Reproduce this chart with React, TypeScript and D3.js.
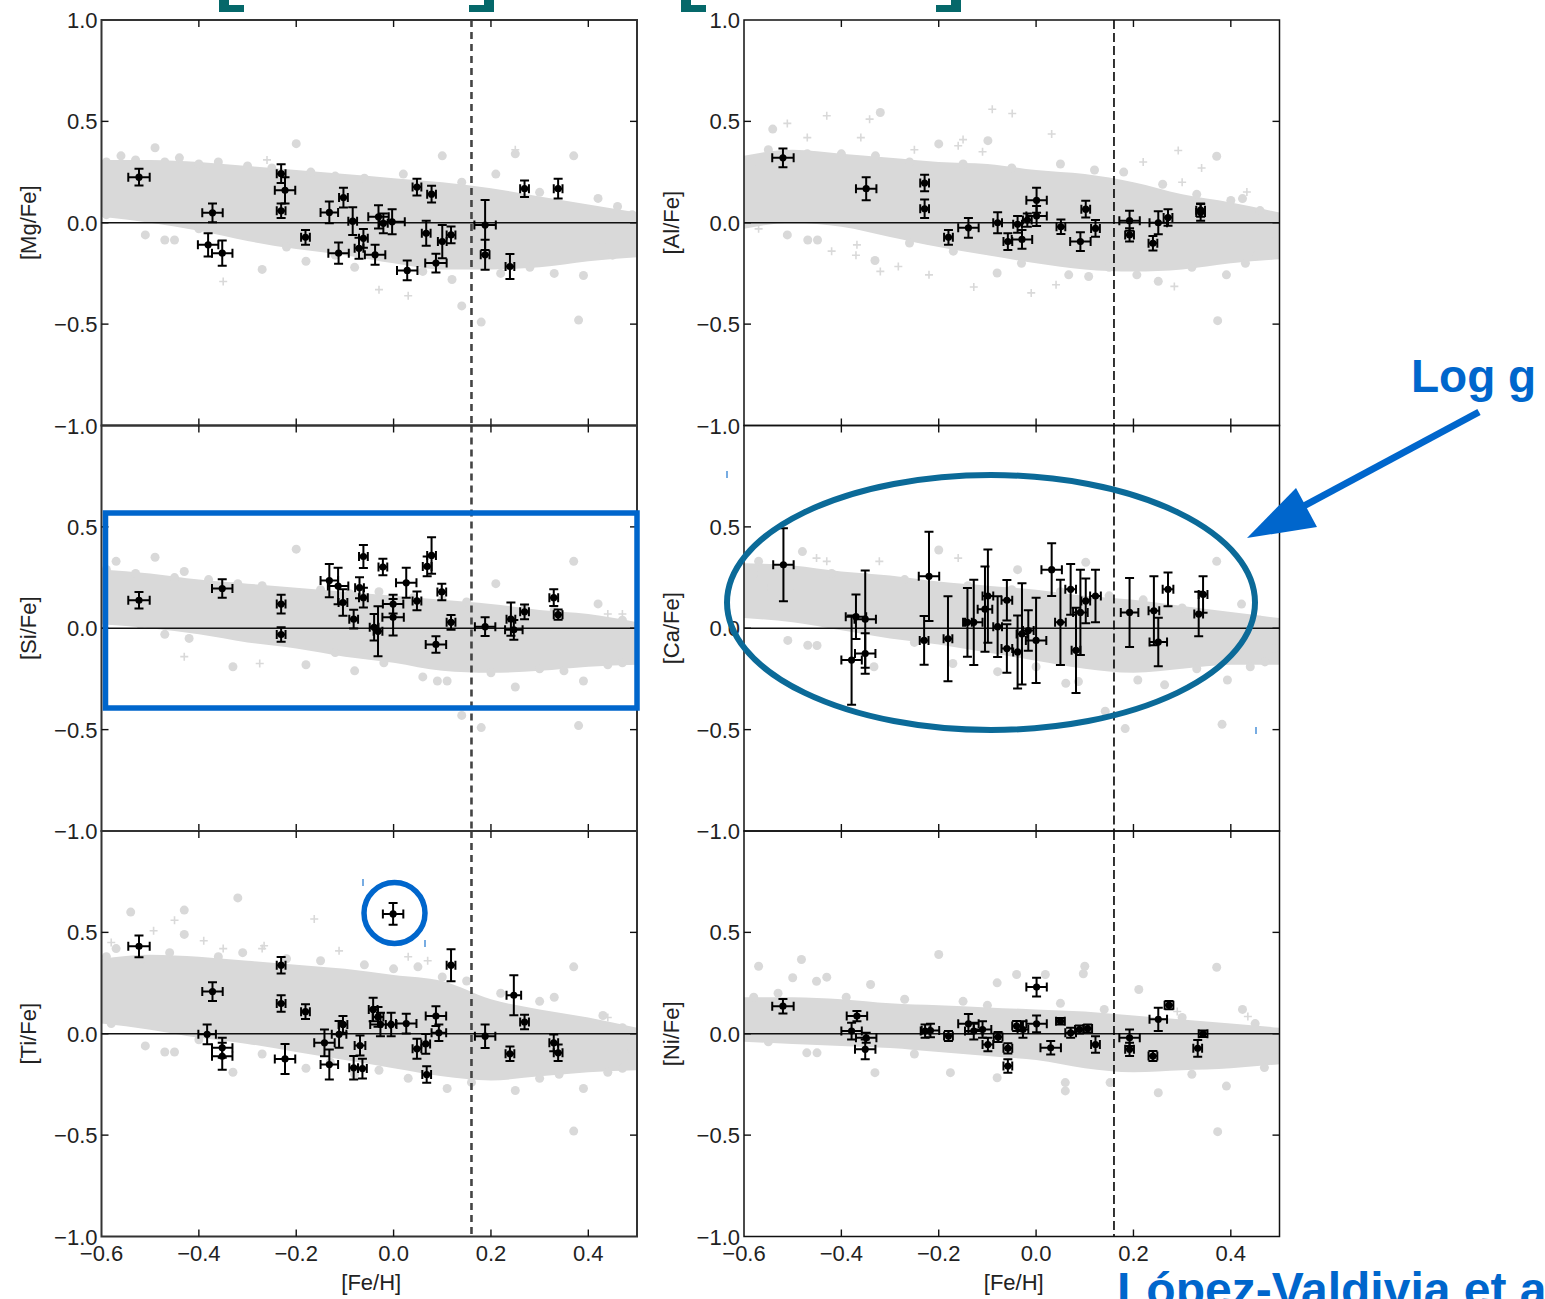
import React from 'react';
import * as d3 from 'd3';

const W = 1545;
const H = 1299;

// ---------- axes ----------
const X_DOMAIN = [-0.6, 0.5];
const Y_DOMAIN = [-1, 1];
const X_TICKS = [-0.6, -0.4, -0.2, 0.0, 0.2, 0.4];
const X_INNER_TICKS = [-0.4, -0.2, 0.0, 0.2, 0.4];
const Y_TICKS = [-1.0, -0.5, 0.0, 0.5, 1.0];
const Y_INNER_TICKS = [-0.5, 0.0, 0.5];
const FEH_SPLIT = 0.16;

// ---------- grey field-star cloud cores (envelopes) ----------
const ENV_X = [-0.6, -0.5, -0.4, -0.3, -0.2, -0.1, 0.0, 0.1, 0.2, 0.3, 0.4, 0.5];
const MG_LO = [0.03, 0.0, -0.04, -0.09, -0.13, -0.16, -0.2, -0.23, -0.23, -0.22, -0.19, -0.17];
const MG_HI = [0.31, 0.31, 0.3, 0.28, 0.26, 0.24, 0.22, 0.2, 0.17, 0.13, 0.09, 0.05];
const SI_LO = [0.02, 0.0, -0.03, -0.07, -0.1, -0.14, -0.17, -0.21, -0.22, -0.21, -0.19, -0.18];
const SI_HI = [0.29, 0.27, 0.24, 0.22, 0.2, 0.18, 0.16, 0.14, 0.12, 0.09, 0.07, 0.03];
const TI_LO = [0.05, 0.02, -0.02, -0.05, -0.09, -0.13, -0.17, -0.21, -0.23, -0.21, -0.19, -0.18];
const TI_HI = [0.37, 0.39, 0.38, 0.36, 0.34, 0.32, 0.29, 0.26, 0.17, 0.12, 0.08, 0.03];
const AL_LO = [-0.03, 0.0, -0.02, -0.07, -0.12, -0.16, -0.2, -0.23, -0.24, -0.23, -0.2, -0.18];
const AL_HI = [0.33, 0.36, 0.34, 0.32, 0.3, 0.29, 0.26, 0.24, 0.2, 0.14, 0.1, 0.05];
const CA_LO = [0.05, 0.03, -0.01, -0.05, -0.08, -0.12, -0.16, -0.2, -0.22, -0.2, -0.18, -0.18];
const CA_HI = [0.32, 0.31, 0.28, 0.26, 0.23, 0.21, 0.19, 0.16, 0.14, 0.11, 0.08, 0.05];
const NI_LO = [-0.04, -0.05, -0.06, -0.07, -0.09, -0.11, -0.13, -0.17, -0.19, -0.18, -0.17, -0.15];
const NI_HI = [0.18, 0.18, 0.17, 0.15, 0.14, 0.13, 0.12, 0.11, 0.09, 0.07, 0.05, 0.03];

// ---------- grey field stars (scattered dots, x,y pairs) ----------
const MG_GREY = [
  -0.59, 0.3, -0.56, 0.33, -0.53, 0.31, -0.49, 0.37, -0.47, 0.3, -0.44, 0.32, -0.4, 0.29, -0.36, 0.3,
  -0.3, 0.28, -0.25, 0.27, -0.2, 0.39, -0.17, 0.25, -0.12, 0.23, -0.06, 0.22, 0.02, 0.24, 0.1, 0.33,
  0.14, 0.2, 0.21, 0.24, 0.25, 0.34, 0.3, 0.15, 0.37, 0.33, 0.42, 0.12, 0.46, 0.08, 0.49, 0.04,
  -0.59, 0.04, -0.51, -0.06, -0.47, -0.085, -0.45, -0.085, -0.4, -0.03, -0.27, -0.23, -0.22, -0.12,
  -0.18, -0.19, -0.12, -0.16, -0.08, -0.22, 0.06, -0.24, 0.12, -0.28, 0.14, -0.41, 0.18, -0.49,
  0.22, -0.25, 0.28, -0.22, 0.33, -0.25, 0.39, -0.26, 0.38, -0.48, 0.45, -0.16, 0.48, -0.05, 0.43, -0.12,
];
const MG_PLUS = [-0.35, -0.29, -0.03, -0.33, 0.03, -0.36, -0.26, 0.31, 0.25, 0.36, -0.5, 0.27];

const SI_GREY = [
  -0.59, 0.29, -0.57, 0.33, -0.53, 0.27, -0.49, 0.35, -0.45, 0.25, -0.43, 0.28, -0.38, 0.24, -0.32, 0.22,
  -0.27, 0.21, -0.2, 0.39, -0.15, 0.19, -0.09, 0.17, -0.03, 0.18, 0.04, 0.15, 0.1, 0.14, 0.15, 0.13,
  0.21, 0.22, 0.27, 0.1, 0.33, 0.09, 0.37, 0.33, 0.42, 0.12, 0.47, 0.04,
  -0.58, 0.04, -0.52, 0.02, -0.47, -0.03, -0.42, -0.05, -0.33, -0.19, -0.18, -0.18, -0.12, -0.12,
  -0.08, -0.21, -0.02, -0.17, 0.06, -0.24, 0.09, -0.26, 0.11, -0.26, 0.14, -0.43, 0.18, -0.49,
  0.2, -0.22, 0.25, -0.29, 0.3, -0.2, 0.35, -0.21, 0.38, -0.48, 0.39, -0.26, 0.44, -0.18, 0.47, -0.17, 0.49, -0.08,
];
const SI_PLUS = [-0.275, -0.174, -0.43, -0.14, 0.44, 0.07, 0.47, 0.07];

const TI_GREY = [
  -0.59, 0.38, -0.57, 0.42, -0.54, 0.6, -0.52, 0.36, -0.46, 0.4, -0.43, 0.61, -0.43, 0.49, -0.36, 0.38,
  -0.32, 0.67, -0.31, 0.4, -0.22, 0.37, -0.15, 0.36, -0.06, 0.34, 0.0, 0.32, 0.05, 0.33, 0.1, 0.28,
  0.15, 0.26, 0.22, 0.2, 0.3, 0.16, 0.33, 0.18, 0.37, 0.33, 0.43, 0.09, 0.47, 0.03,
  -0.58, 0.05, -0.51, -0.06, -0.47, -0.09, -0.45, -0.09, -0.4, -0.03, -0.33, -0.19, -0.27, -0.1,
  -0.18, -0.17, -0.13, -0.14, -0.08, -0.2, -0.03, -0.18, 0.03, -0.22, 0.07, -0.2, 0.11, -0.27,
  0.16, -0.24, 0.25, -0.28, 0.3, -0.22, 0.34, -0.2, 0.37, -0.48, 0.39, -0.27, 0.44, -0.19, 0.47, -0.17, 0.49, -0.08,
];
const TI_PLUS = [
  -0.163, 0.566, -0.493, 0.508, -0.39, 0.459, -0.266, 0.434, -0.112, 0.409, -0.58, 0.45, -0.35, 0.42,
  0.03, 0.38, 0.07, 0.36, -0.45, 0.56, -0.27, 0.42, 0.44, 0.08,
];

const AL_GREY = [
  -0.32, 0.544, -0.2, 0.389, -0.099, 0.405, 0.371, 0.328, 0.424, 0.119, -0.541, 0.462, -0.58, 0.3,
  -0.55, 0.36, -0.47, 0.34, -0.4, 0.34, -0.33, 0.33, -0.26, 0.3, -0.15, 0.29, -0.05, 0.27, 0.05, 0.29,
  0.12, 0.26, 0.18, 0.25, 0.26, 0.19, 0.33, 0.14, 0.4, 0.11, 0.46, 0.06,
  -0.511, -0.06, -0.469, -0.085, -0.449, -0.085, -0.331, -0.186, -0.26, -0.1, -0.17, -0.14, -0.08, -0.248,
  -0.03, -0.2, 0.067, -0.257, 0.108, -0.265, 0.15, -0.22, 0.207, -0.257, 0.251, -0.289, 0.32, -0.22,
  0.391, -0.257, 0.454, -0.158, 0.491, -0.093, 0.373, -0.483, 0.43, -0.2,
];
const AL_PLUS = [
  -0.342, 0.511, -0.43, 0.528, -0.511, 0.49, -0.09, 0.56, -0.049, 0.539, 0.032, 0.438, 0.292, 0.356,
  0.433, 0.152, -0.368, -0.109, -0.283, -0.216, -0.32, -0.24, -0.22, -0.257, -0.128, -0.317, -0.01, -0.346,
  0.041, -0.306, 0.284, -0.314, -0.15, 0.41, -0.16, 0.38, -0.47, 0.42, 0.3, 0.2, 0.34, 0.27, -0.57, -0.03,
  -0.42, -0.14, -0.37, -0.16, -0.36, 0.42, -0.11, 0.35, 0.22, 0.3, -0.25, 0.36,
];

const CA_GREY = [
  -0.48, 0.378, -0.57, 0.33, -0.2, 0.386, -0.038, 0.289, 0.102, 0.325, 0.371, 0.33, 0.422, 0.119,
  0.382, 0.045, -0.58, 0.27, -0.52, 0.3, -0.42, 0.27, -0.35, 0.25, -0.27, 0.24, -0.14, 0.21, -0.05, 0.19,
  0.05, 0.18, 0.15, 0.16, 0.22, 0.14, 0.3, 0.1, 0.46, 0.04,
  -0.51, -0.06, -0.469, -0.084, -0.45, -0.085, -0.333, -0.19, -0.25, -0.07, -0.171, -0.174, -0.079, -0.214,
  0.0, -0.19, 0.061, -0.271, 0.087, -0.263, 0.142, -0.409, 0.183, -0.495, 0.209, -0.255, 0.264, -0.279,
  0.33, -0.2, 0.393, -0.255, 0.382, -0.474, 0.44, -0.19, 0.47, -0.166, 0.49, -0.1,
];
const CA_PLUS = [-0.451, 0.346, -0.43, 0.33, -0.322, 0.33, -0.16, 0.346, -0.55, 0.2, -0.5, 0.21];

const NI_GREY = [
  -0.482, 0.366, -0.2, 0.391, -0.57, 0.333, -0.5, 0.276, -0.43, 0.279, -0.451, 0.259, -0.34, 0.243,
  -0.08, 0.251, -0.04, 0.292, 0.019, 0.292, 0.097, 0.296, 0.1, 0.333, 0.211, 0.218, 0.371, 0.328,
  0.424, 0.12, -0.58, 0.18, -0.53, 0.2, -0.39, 0.18, -0.27, 0.17, -0.15, 0.16, -0.1, 0.14, 0.05, 0.15,
  0.14, 0.12, 0.3, 0.08, 0.45, 0.05,
  -0.55, -0.04, -0.471, -0.094, -0.45, -0.094, -0.331, -0.192, -0.25, -0.1, -0.176, -0.192, -0.08, -0.217,
  0.06, -0.241, 0.06, -0.282, 0.152, -0.241, 0.251, -0.291, 0.32, -0.2, 0.391, -0.258, 0.469, -0.167,
  0.491, -0.118, 0.373, -0.483,
];
const NI_PLUS = [0.435, 0.085, 0.29, 0.11, -0.52, 0.02];

// ---------- sample stars: [Fe/H], [X/Fe], err[Fe/H], err[X/Fe] ----------
const MG_STARS = [
  [-0.523, 0.225, 0.022, 0.041], [-0.372, 0.049, 0.021, 0.046], [-0.381, -0.109, 0.021, 0.057],
  [-0.352, -0.15, 0.021, 0.062], [-0.231, 0.242, 0.009, 0.046], [-0.223, 0.16, 0.021, 0.065],
  [-0.231, 0.059, 0.009, 0.036], [-0.181, -0.072, 0.009, 0.036], [-0.132, 0.051, 0.018, 0.054],
  [-0.103, 0.124, 0.009, 0.049], [-0.113, -0.15, 0.021, 0.052], [-0.084, 0.008, 0.009, 0.069],
  [-0.071, -0.126, 0.009, 0.052], [-0.062, -0.077, 0.009, 0.046], [-0.038, -0.158, 0.021, 0.049],
  [-0.031, 0.029, 0.021, 0.057], [-0.021, -0.003, 0.009, 0.049], [-0.003, 0.005, 0.026, 0.062],
  [0.028, -0.235, 0.021, 0.049], [0.048, 0.176, 0.009, 0.041], [0.078, 0.141, 0.009, 0.041],
  [0.067, -0.052, 0.009, 0.062], [0.087, -0.199, 0.022, 0.046], [0.1, -0.093, 0.009, 0.082],
  [0.118, -0.06, 0.009, 0.041], [0.188, -0.011, 0.022, 0.123], [0.188, -0.158, 0.009, 0.074],
  [0.239, -0.216, 0.009, 0.062], [0.269, 0.168, 0.009, 0.041], [0.338, 0.168, 0.009, 0.049],
];
const SI_STARS = [
  [-0.523, 0.138, 0.022, 0.041], [-0.352, 0.196, 0.021, 0.046], [-0.231, 0.119, 0.009, 0.046],
  [-0.231, -0.031, 0.009, 0.036], [-0.132, 0.235, 0.018, 0.082], [-0.114, 0.208, 0.021, 0.09],
  [-0.104, 0.127, 0.009, 0.065], [-0.082, 0.045, 0.009, 0.046], [-0.07, 0.2, 0.009, 0.052],
  [-0.062, 0.151, 0.009, 0.049], [-0.062, 0.354, 0.009, 0.057], [-0.022, 0.302, 0.009, 0.041],
  [-0.04, 0.005, 0.009, 0.065], [-0.032, -0.015, 0.009, 0.123], [-0.001, 0.119, 0.021, 0.046],
  [-0.001, 0.054, 0.022, 0.09], [0.026, 0.224, 0.021, 0.074], [0.048, 0.135, 0.009, 0.046],
  [0.069, 0.305, 0.009, 0.049], [0.078, 0.359, 0.009, 0.09], [0.099, 0.179, 0.009, 0.041],
  [0.087, -0.08, 0.021, 0.041], [0.118, 0.029, 0.009, 0.036], [0.188, 0.008, 0.021, 0.046],
  [0.241, 0.045, 0.009, 0.082], [0.247, -0.008, 0.018, 0.049], [0.269, 0.081, 0.009, 0.036],
  [0.329, 0.151, 0.009, 0.041], [0.338, 0.067, 0.009, 0.025],
];
const TI_STARS = [
  [-0.523, 0.431, 0.022, 0.054], [-0.372, 0.208, 0.021, 0.046], [-0.383, -0.003, 0.018, 0.049],
  [-0.352, -0.069, 0.021, 0.049], [-0.352, -0.111, 0.021, 0.066], [-0.231, 0.338, 0.009, 0.041],
  [-0.231, 0.149, 0.009, 0.041], [-0.181, 0.109, 0.009, 0.036], [-0.223, -0.124, 0.021, 0.074],
  [-0.142, -0.045, 0.021, 0.066], [-0.132, -0.152, 0.018, 0.074], [-0.112, -0.003, 0.015, 0.066],
  [-0.104, 0.046, 0.009, 0.041], [-0.082, -0.168, 0.009, 0.058], [-0.064, -0.172, 0.009, 0.049],
  [-0.069, -0.058, 0.011, 0.049], [-0.042, 0.12, 0.009, 0.058], [-0.032, 0.083, 0.011, 0.049],
  [-0.027, 0.046, 0.021, 0.058], [-0.001, 0.591, 0.021, 0.054], [-0.005, 0.046, 0.011, 0.058],
  [0.026, 0.05, 0.021, 0.049], [0.048, -0.074, 0.009, 0.049], [0.068, -0.201, 0.009, 0.041],
  [0.066, -0.05, 0.009, 0.049], [0.087, 0.087, 0.021, 0.049], [0.093, 0.005, 0.015, 0.041],
  [0.118, 0.338, 0.009, 0.079], [0.188, -0.012, 0.021, 0.058], [0.247, 0.19, 0.015, 0.099],
  [0.269, 0.058, 0.009, 0.036], [0.239, -0.099, 0.009, 0.036], [0.329, -0.045, 0.009, 0.041],
  [0.338, -0.094, 0.009, 0.041],
];
const AL_STARS = [
  [-0.52, 0.32, 0.022, 0.046], [-0.349, 0.168, 0.021, 0.057], [-0.229, 0.196, 0.009, 0.041],
  [-0.229, 0.069, 0.009, 0.046], [-0.18, -0.072, 0.009, 0.036], [-0.139, -0.025, 0.021, 0.049],
  [-0.079, 0.0, 0.009, 0.052], [-0.058, -0.093, 0.009, 0.041], [-0.038, -0.008, 0.009, 0.041],
  [-0.029, -0.082, 0.021, 0.046], [-0.018, 0.013, 0.009, 0.033], [0.001, 0.111, 0.021, 0.062],
  [0.001, 0.033, 0.021, 0.049], [0.051, -0.02, 0.009, 0.036], [0.102, 0.067, 0.009, 0.041],
  [0.091, -0.093, 0.021, 0.046], [0.122, -0.028, 0.009, 0.041], [0.192, 0.01, 0.021, 0.049],
  [0.192, -0.06, 0.009, 0.033], [0.24, -0.101, 0.009, 0.036], [0.251, 0.0, 0.018, 0.057],
  [0.271, 0.026, 0.009, 0.041], [0.338, 0.051, 0.009, 0.041], [0.338, 0.062, 0.009, 0.033],
];
const CA_STARS = [
  [-0.519, 0.313, 0.021, 0.18], [-0.37, 0.057, 0.021, 0.11], [-0.351, 0.045, 0.022, 0.24],
  [-0.379, -0.157, 0.021, 0.22], [-0.351, -0.125, 0.021, 0.1], [-0.22, 0.256, 0.021, 0.22],
  [-0.23, -0.06, 0.009, 0.12], [-0.181, -0.052, 0.009, 0.21], [-0.141, 0.029, 0.009, 0.17],
  [-0.128, 0.029, 0.018, 0.21], [-0.105, 0.094, 0.015, 0.21], [-0.099, 0.159, 0.011, 0.23],
  [-0.079, 0.008, 0.009, 0.15], [-0.06, 0.138, 0.011, 0.1], [-0.06, -0.1, 0.011, 0.12],
  [-0.038, -0.117, 0.009, 0.18], [-0.029, -0.028, 0.011, 0.25], [-0.016, -0.011, 0.011, 0.1],
  [0.0, -0.06, 0.021, 0.21], [0.032, 0.289, 0.021, 0.13], [0.05, 0.029, 0.011, 0.21],
  [0.071, 0.192, 0.011, 0.125], [0.082, -0.109, 0.009, 0.21], [0.091, 0.078, 0.015, 0.21],
  [0.102, 0.135, 0.009, 0.11], [0.122, 0.159, 0.011, 0.13], [0.192, 0.078, 0.018, 0.17],
  [0.242, 0.086, 0.011, 0.17], [0.251, -0.068, 0.018, 0.12], [0.271, 0.192, 0.011, 0.083],
  [0.334, 0.07, 0.009, 0.11], [0.343, 0.167, 0.009, 0.09],
];
const NI_STARS = [
  [-0.52, 0.136, 0.022, 0.036], [-0.368, 0.087, 0.021, 0.025], [-0.379, 0.013, 0.021, 0.041],
  [-0.349, -0.02, 0.021, 0.025], [-0.351, -0.077, 0.021, 0.049], [-0.228, 0.013, 0.009, 0.033],
  [-0.217, 0.016, 0.018, 0.033], [-0.18, -0.011, 0.009, 0.025], [-0.139, 0.049, 0.021, 0.049],
  [-0.128, 0.013, 0.018, 0.041], [-0.11, 0.021, 0.018, 0.041], [-0.099, -0.053, 0.011, 0.033],
  [-0.078, -0.016, 0.009, 0.025], [-0.058, -0.072, 0.009, 0.025], [-0.058, -0.159, 0.009, 0.033],
  [-0.04, 0.038, 0.009, 0.025], [-0.027, 0.021, 0.011, 0.041], [0.001, 0.23, 0.021, 0.046],
  [0.001, 0.049, 0.021, 0.041], [0.03, -0.069, 0.021, 0.033], [0.05, 0.062, 0.009, 0.016],
  [0.071, 0.005, 0.011, 0.025], [0.089, 0.021, 0.009, 0.02], [0.106, 0.026, 0.009, 0.02],
  [0.122, -0.053, 0.009, 0.041], [0.192, -0.02, 0.021, 0.041], [0.192, -0.077, 0.009, 0.033],
  [0.24, -0.11, 0.009, 0.025], [0.251, 0.071, 0.018, 0.057], [0.273, 0.141, 0.009, 0.02],
  [0.343, 0.0, 0.009, 0.016], [0.332, -0.072, 0.009, 0.041],
];

const PANEL_LABELS = ['[Mg/Fe]', '[Si/Fe]', '[Ti/Fe]', '[Al/Fe]', '[Ca/Fe]', '[Ni/Fe]'];
const X_LABEL = '[Fe/H]';

// ---------- layout ----------
const COLS = [
  { x0: 101.5, x1: 637, dash: { stroke: '#444', width: 2.6, array: '7,5' }, frame: '#333', fw: 2 },
  { x0: 744, x1: 1279.5, dash: { stroke: '#000', width: 1.6, array: '9,4' }, frame: '#111', fw: 1.5 },
];
const ROWS = [20, 425.5, 831, 1236.5];
const FONT = "'Liberation Sans', Arial, Helvetica, sans-serif";
const BLUE = '#0066cc';
const TEAL = '#0b6a98';
const BRACKET = '#05686a';

const PANELS = [
  { col: 0, row: 0, label: PANEL_LABELS[0], lo: MG_LO, hi: MG_HI, grey: MG_GREY, plus: MG_PLUS, stars: MG_STARS },
  { col: 0, row: 1, label: PANEL_LABELS[1], lo: SI_LO, hi: SI_HI, grey: SI_GREY, plus: SI_PLUS, stars: SI_STARS },
  { col: 0, row: 2, label: PANEL_LABELS[2], lo: TI_LO, hi: TI_HI, grey: TI_GREY, plus: TI_PLUS, stars: TI_STARS },
  { col: 1, row: 0, label: PANEL_LABELS[3], lo: AL_LO, hi: AL_HI, grey: AL_GREY, plus: AL_PLUS, stars: AL_STARS },
  { col: 1, row: 1, label: PANEL_LABELS[4], lo: CA_LO, hi: CA_HI, grey: CA_GREY, plus: CA_PLUS, stars: CA_STARS },
  { col: 1, row: 2, label: PANEL_LABELS[5], lo: NI_LO, hi: NI_HI, grey: NI_GREY, plus: NI_PLUS, stars: NI_STARS },
];

function pairs(a: number[]): [number, number][] {
  const out: [number, number][] = [];
  for (let i = 0; i + 1 < a.length; i += 2) out.push([a[i], a[i + 1]]);
  return out;
}

const fmt = (v: number) => (v < 0 ? '\u2212' : '') + Math.abs(v).toFixed(1);

function Panel({ p, idx }: { p: any; idx: number }) {
  const c = COLS[p.col];
  const yTop = ROWS[p.row];
  const yBot = ROWS[p.row + 1];
  const x = d3.scaleLinear().domain(X_DOMAIN).range([c.x0, c.x1]);
  const y = d3.scaleLinear().domain(Y_DOMAIN).range([yBot, yTop]);
  const area = d3
    .area<number>()
    .x((_, i) => x(ENV_X[i]))
    .y0((_, i) => y(p.lo[i]))
    .y1((_, i) => y(p.hi[i]))
    .curve(d3.curveMonotoneX);
  const clipId = `clip-${idx}`;
  const GREY = '#d9d9d9';
  const cap = 4.5;
  // top label (1.0) of lower panels coincides with the −1.0 label of the panel above
  const yLabels = p.row === 0 ? Y_TICKS : Y_TICKS.filter((t) => t !== 1.0);
  return (
    <g>
      <defs>
        <clipPath id={clipId}>
          <rect x={c.x0} y={yTop} width={c.x1 - c.x0} height={yBot - yTop} />
        </clipPath>
      </defs>
      <g clipPath={`url(#${clipId})`}>
        <path d={area(ENV_X) || ''} fill={GREY} />
        {pairs(p.grey).map(([gx, gy], i) => (
          <circle key={'g' + i} cx={x(gx)} cy={y(gy)} r={4.5} fill={GREY} />
        ))}
        {pairs(p.plus).map(([gx, gy], i) => (
          <path
            key={'p' + i}
            d={`M${x(gx) - 4},${y(gy)}H${x(gx) + 4}M${x(gx)},${y(gy) - 4}V${y(gy) + 4}`}
            stroke={GREY}
            strokeWidth={1.6}
          />
        ))}
        <line x1={c.x0} x2={c.x1} y1={y(0)} y2={y(0)} stroke="#111" strokeWidth={1.6} />
        <line
          x1={x(FEH_SPLIT)}
          x2={x(FEH_SPLIT)}
          y1={yTop}
          y2={yBot}
          stroke={c.dash.stroke}
          strokeWidth={c.dash.width}
          strokeDasharray={c.dash.array}
        />
        {p.stars.map(([sx, sy, ex, ey]: number[], i: number) => {
          const cx = x(sx);
          const cy = y(sy);
          const xl = x(sx - ex);
          const xr = x(sx + ex);
          const yt = y(sy + ey);
          const yb = y(sy - ey);
          return (
            <g key={'s' + i} stroke="#000" strokeWidth={2}>
              <path
                d={`M${xl},${cy}H${xr}M${xl},${cy - cap}V${cy + cap}M${xr},${cy - cap}V${cy + cap}` +
                  `M${cx},${yt}V${yb}M${cx - cap},${yt}H${cx + cap}M${cx - cap},${yb}H${cx + cap}`}
                fill="none"
              />
              <circle cx={cx} cy={cy} r={3.6} fill="#000" stroke="none" />
            </g>
          );
        })}
      </g>
      {/* frame */}
      <rect x={c.x0} y={yTop} width={c.x1 - c.x0} height={yBot - yTop} fill="none" stroke={c.frame} strokeWidth={c.fw} />
      {/* ticks */}
      {X_INNER_TICKS.map((t) => (
        <g key={'xt' + t} stroke="#111" strokeWidth={1.4}>
          <line x1={x(t)} x2={x(t)} y1={yTop} y2={yTop + 7} />
          <line x1={x(t)} x2={x(t)} y1={yBot} y2={yBot - 7} />
        </g>
      ))}
      {Y_INNER_TICKS.map((t) => (
        <g key={'yt' + t} stroke="#111" strokeWidth={1.4}>
          <line x1={c.x0} x2={c.x0 + 7} y1={y(t)} y2={y(t)} />
          <line x1={c.x1} x2={c.x1 - 7} y1={y(t)} y2={y(t)} />
        </g>
      ))}
      {/* y tick labels */}
      {yLabels.map((t) => (
        <text key={'yl' + t} x={c.x0 - 4} y={y(t) + 8} textAnchor="end" fontSize={22} fill="#222" fontFamily={FONT}>
          {fmt(t)}
        </text>
      ))}
      {/* y axis label */}
      <text
        transform={`translate(${c.x0 - 73},${(yTop + yBot) / 2}) rotate(-90)`}
        textAnchor="middle"
        dominantBaseline="central"
        fontSize={22}
        fill="#222"
        fontFamily={FONT}
      >
        {p.label}
      </text>
      {/* x tick labels on bottom row */}
      {p.row === 2 &&
        X_TICKS.map((t) => (
          <text key={'xl' + t} x={x(t)} y={yBot + 24} textAnchor="middle" fontSize={22} fill="#222" fontFamily={FONT}>
            {fmt(t)}
          </text>
        ))}
      {p.row === 2 && (
        <text x={(c.x0 + c.x1) / 2 + 2} y={yBot + 53} textAnchor="middle" fontSize={22} fill="#222" fontFamily={FONT}>
          {X_LABEL}
        </text>
      )}
    </g>
  );
}

export default function App() {
  return (
    <svg
      width={W}
      height={H}
      viewBox={`0 0 ${W} ${H}`}
      style={{ position: 'absolute', left: 0, top: 0, background: '#fff', display: 'block' }}
    >
      <rect x={0} y={0} width={W} height={H} fill="#fff" />
      {PANELS.map((p, i) => (
        <Panel key={i} p={p} idx={i} />
      ))}

      {/* cut-off teal title brackets */}
      <g fill={BRACKET}>
        <path d="M219,0H229V5H244V12H219Z" />
        <path d="M484,0H494V12H469V5H484Z" />
        <path d="M681,0H691V5H706V12H681Z" />
        <path d="M951,0H961V12H936V5H951Z" />
      </g>

      {/* highlight annotations */}
      <rect x={105.5} y={513} width={531.5} height={195} fill="none" stroke={BLUE} strokeWidth={5.5} />
      <ellipse cx={991} cy={602.5} rx={264} ry={127.5} fill="none" stroke={TEAL} strokeWidth={6} />
      <circle cx={394.5} cy={913} r={30.5} fill="none" stroke={BLUE} strokeWidth={5.5} />
      <g stroke="#4a90d9" strokeWidth={1.5}>
        <line x1={727} x2={727} y1={471} y2={478} />
        <line x1={1256} x2={1256} y1={727} y2={734} />
        <line x1={363} x2={363} y1={879} y2={886} />
        <line x1={425} x2={425} y1={940} y2={947} />
      </g>

      {/* Log g arrow */}
      <line x1={1479} x2={1300} y1={412} y2={508} stroke={BLUE} strokeWidth={7} />
      <path d="M1247,538L1296,488L1317,527Z" fill={BLUE} />
      <text x={1411} y={392} fontSize={46} fontWeight="bold" fill={BLUE} fontFamily={FONT}>
        Log g
      </text>
      <text x={1117} y={1306} fontSize={48} fontWeight="bold" fill={BLUE} fontFamily={FONT}>
        López-Valdivia et al.
      </text>
    </svg>
  );
}
